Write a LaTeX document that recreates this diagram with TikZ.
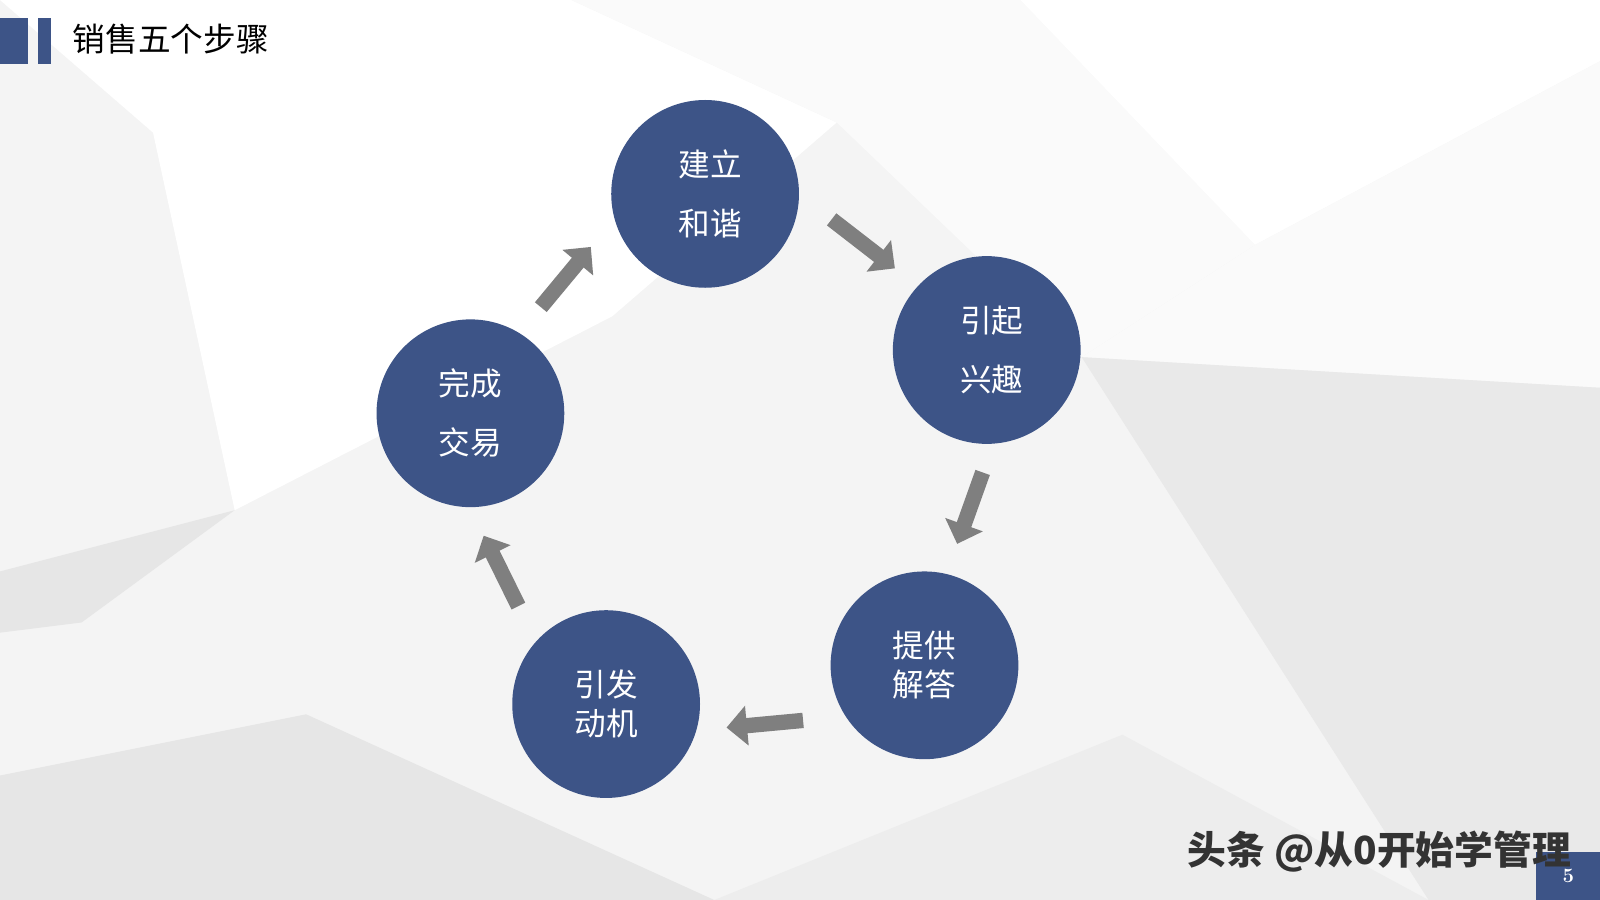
\documentclass[tikz,border=0pt]{standalone}
\usepackage{fontspec}
\newfontfamily\cjk{Noto Sans CJK SC}
\usetikzlibrary{arrows.meta}
\definecolor{navy}{HTML}{3D5487}
\definecolor{bgA}{HTML}{F4F4F4}
\definecolor{bgB}{HTML}{E6E6E6}
\definecolor{bgC}{HTML}{FAFAFA}
\definecolor{arrowgray}{HTML}{7F7F7F}
\tikzset{
  stepcircle/.style={circle,fill=navy,minimum size=184pt,inner sep=0pt,text=white,font=\cjk\fontsize{31}{58}\selectfont,align=center},
  blockarrow/.style={draw=arrowgray,line width=15pt,-{Triangle[width=38pt,length=20pt]}},
}
\begin{document}
\begin{tikzpicture}[x=1pt,y=-1pt]
\useasboundingbox (0,0) rectangle (1568,882);
\fill[bgA] (0,0) rectangle (1568,882);
\fill[white] (0,0) -- (560,0) -- (820,120) -- (600,310) -- (230,500) -- (150,130) -- cycle;
\fill[bgC] (560,0) -- (1000,0) -- (1230,240) -- (1060,350) -- (820,120) -- cycle;
\fill[white] (1000,0) -- (1568,0) -- (1568,60) -- (1230,240) -- cycle;
\fill[bgC] (1230,240) -- (1568,60) -- (1568,380) -- (1060,350) -- cycle;
\fill[bgB] (0,560) -- (230,500) -- (80,610) -- (0,620) -- cycle;
\fill[bgB] (0,760) -- (300,700) -- (700,882) -- (0,882) -- cycle;
\fill[bgB!90] (1060,350) -- (1568,380) -- (1568,882) -- (1400,882) -- cycle;
\fill[bgB!70] (700,882) -- (1100,720) -- (1400,882) -- cycle;
\fill[navy] (0,18) rectangle (27,63);
\fill[navy] (37,18) rectangle (50,63);
\node[anchor=west,font=\cjk\fontsize{32}{36}\selectfont] (title) at (68,38) {销售五个步骤};
\node[stepcircle] (a) at (691,190) {\hspace*{10pt}建立\\\hspace*{10pt}和谐};
\node[stepcircle] (b) at (967,343) {\hspace*{10pt}引起\\\hspace*{10pt}兴趣};
\node[stepcircle,font=\cjk\fontsize{31}{38}\selectfont] (c) at (906,652) {提供\\解答};
\node[stepcircle,font=\cjk\fontsize{31}{38}\selectfont] (d) at (594,690) {引发\\动机};
\node[stepcircle] (e) at (461,405) {完成\\交易};
\coordinate (a1) at (815,215); \coordinate (a2) at (877,263);
\coordinate (b1) at (963,463); \coordinate (b2) at (938,533);
\coordinate (c1) at (787,706); \coordinate (c2) at (712,713);
\coordinate (d1) at (508,594); \coordinate (d2) at (474,525);
\coordinate (e1) at (530,301); \coordinate (e2) at (579,242);
\draw[blockarrow] (a1) -- (a2);
\draw[blockarrow] (b1) -- (b2);
\draw[blockarrow] (c1) -- (c2);
\draw[blockarrow] (d1) -- (d2);
\draw[blockarrow] (e1) -- (e2);
\fill[navy] (1505,835) rectangle (1568,882);
\node[text=white,font=\bfseries\fontsize{20}{24}\selectfont] (pg) at (1537,858) {5};
\node[anchor=east,font=\cjk\bfseries\fontsize{38}{42}\selectfont,text=black!80] (wm) at (1543,835) {头条 @从0开始学管理};
\end{tikzpicture}
\end{document}
